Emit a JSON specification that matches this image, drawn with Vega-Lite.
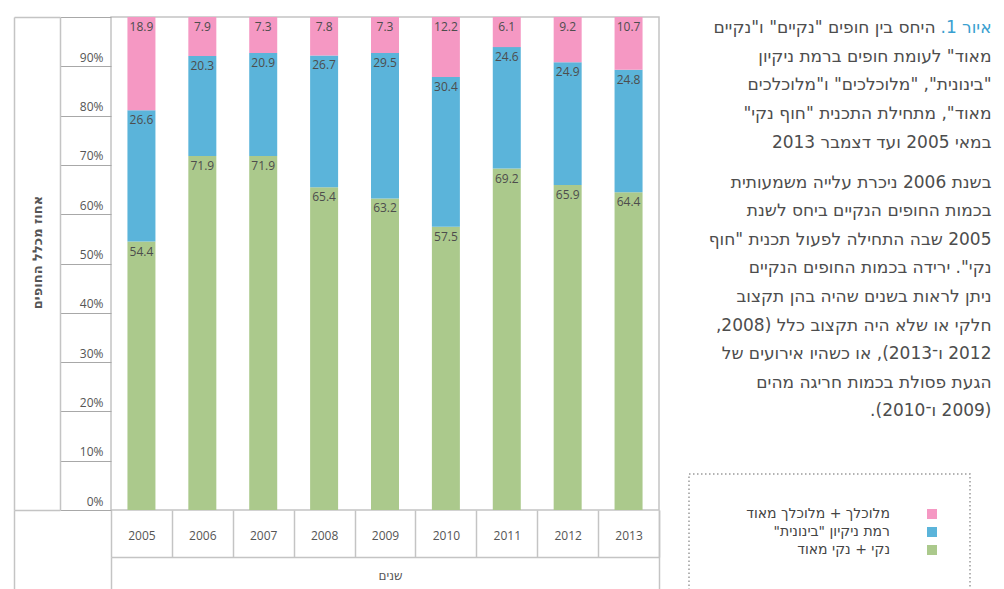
{
  "$schema": "https://vega.github.io/schema/vega-lite/v6.json",
  "width": 548,
  "height": 493,
  "autosize": {"type": "none"},
  "padding": {"left": 111, "top": 17, "right": 345, "bottom": 79},
  "background": "white",
  "config": {
    "font": "Open Sans",
    "view": {"stroke": "#c4c4c4", "strokeWidth": 1.5},
    "axis": {"grid": false},
    "legend": {"strokeColor": "#9a9a9a", "strokeDash": [1.5, 2.5], "strokeWidth": 1.5, "padding": 33}
  },
  "data": {
    "values": [
      {"year": "2005", "category": "נקי + נקי מאוד", "level": 1, "value": 54.4},
      {"year": "2005", "category": "רמת ניקיון \"בינונית\"", "level": 2, "value": 26.6},
      {"year": "2005", "category": "מלוכלך + מלוכלך מאוד", "level": 3, "value": 18.9},
      {"year": "2006", "category": "נקי + נקי מאוד", "level": 1, "value": 71.9},
      {"year": "2006", "category": "רמת ניקיון \"בינונית\"", "level": 2, "value": 20.3},
      {"year": "2006", "category": "מלוכלך + מלוכלך מאוד", "level": 3, "value": 7.9},
      {"year": "2007", "category": "נקי + נקי מאוד", "level": 1, "value": 71.9},
      {"year": "2007", "category": "רמת ניקיון \"בינונית\"", "level": 2, "value": 20.9},
      {"year": "2007", "category": "מלוכלך + מלוכלך מאוד", "level": 3, "value": 7.3},
      {"year": "2008", "category": "נקי + נקי מאוד", "level": 1, "value": 65.4},
      {"year": "2008", "category": "רמת ניקיון \"בינונית\"", "level": 2, "value": 26.7},
      {"year": "2008", "category": "מלוכלך + מלוכלך מאוד", "level": 3, "value": 7.8},
      {"year": "2009", "category": "נקי + נקי מאוד", "level": 1, "value": 63.2},
      {"year": "2009", "category": "רמת ניקיון \"בינונית\"", "level": 2, "value": 29.5},
      {"year": "2009", "category": "מלוכלך + מלוכלך מאוד", "level": 3, "value": 7.3},
      {"year": "2010", "category": "נקי + נקי מאוד", "level": 1, "value": 57.5},
      {"year": "2010", "category": "רמת ניקיון \"בינונית\"", "level": 2, "value": 30.4},
      {"year": "2010", "category": "מלוכלך + מלוכלך מאוד", "level": 3, "value": 12.2},
      {"year": "2011", "category": "נקי + נקי מאוד", "level": 1, "value": 69.2},
      {"year": "2011", "category": "רמת ניקיון \"בינונית\"", "level": 2, "value": 24.6},
      {"year": "2011", "category": "מלוכלך + מלוכלך מאוד", "level": 3, "value": 6.1},
      {"year": "2012", "category": "נקי + נקי מאוד", "level": 1, "value": 65.9},
      {"year": "2012", "category": "רמת ניקיון \"בינונית\"", "level": 2, "value": 24.9},
      {"year": "2012", "category": "מלוכלך + מלוכלך מאוד", "level": 3, "value": 9.2},
      {"year": "2013", "category": "נקי + נקי מאוד", "level": 1, "value": 64.4},
      {"year": "2013", "category": "רמת ניקיון \"בינונית\"", "level": 2, "value": 24.8},
      {"year": "2013", "category": "מלוכלך + מלוכלך מאוד", "level": 3, "value": 10.7}
    ]
  },
  "resolve": {"axis": {"x": "independent", "y": "independent"}},
  "layer": [
    {
      "mark": {"type": "bar", "size": 28},
      "encoding": {
        "x": {
          "field": "year", "type": "ordinal",
          "scale": {"paddingInner": 0, "paddingOuter": 0},
          "axis": {
            "orient": "bottom", "domain": false, "ticks": true, "tickBand": "extent",
            "tickSize": 47, "tickColor": "#c4c4c4", "tickWidth": 1.5,
            "labelAngle": 0, "labelBaseline": "middle", "labelPadding": -22,
            "labelFontSize": 12, "labelColor": "#555555", "labelFont": "Open Sans",
            "title": "שנים", "titleX": 279, "titleY": 65, "titleBaseline": "middle", "titleAlign": "center",
            "titleFontSize": 12, "titleFontWeight": "normal", "titleColor": "#555555", "titleFont": "DejaVu Sans"
          }
        },
        "y": {
          "field": "value", "type": "quantitative", "stack": "normalize",
          "scale": {"domain": [0, 1]},
          "axis": {
            "orient": "left", "domain": false, "ticks": true,
            "values": [0, 0.1, 0.2, 0.3, 0.4, 0.5, 0.6, 0.7, 0.8, 0.9, 1],
            "format": ".0%", "labelExpr": "datum.value > 0.95 ? '' : datum.label",
            "tickSize": 51, "tickColor": "#a8a8a8", "tickWidth": 1,
            "labelPadding": -43, "labelAlign": "right", "labelBaseline": "alphabetic", "labelOffset": -5,
            "labelFontSize": 12, "labelColor": "#555555", "labelFont": "Open Sans",
            "title": "אחוז מכלל החופים", "titleX": -74, "titleY": 235, "titleAngle": 270,
            "titleAlign": "center", "titleBaseline": "middle",
            "titleFontSize": 13, "titleFontWeight": "bold", "titleColor": "#555555", "titleFont": "DejaVu Sans"
          }
        },
        "color": {
          "field": "category", "type": "nominal",
          "scale": {
            "domain": ["מלוכלך + מלוכלך מאוד", "רמת ניקיון \"בינונית\"", "נקי + נקי מאוד"],
            "range": ["#f598c3", "#5bb4da", "#abc98c"]
          },
          "legend": {
            "orient": "none", "legendX": 578, "legendY": 457,
            "title": ["\u00a0", "\u00a0", "\u00a0", "\u00a0", "\u00a0", "\u00a0"],
            "titleOrient": "left", "titlePadding": 203, "titleLineHeight": 25, "titleFontSize": 13, "titleFont": "DejaVu Sans",
            "symbolType": "square", "symbolSize": 100, "symbolStrokeWidth": 0,
            "labelAlign": "right", "labelOffset": -49, "labelFontSize": 14,
            "labelColor": "#444444", "labelFont": "DejaVu Sans", "labelLimit": 300, "rowPadding": 4,
            "labelExpr": "'\u200f' + datum.label + '\u200f'"
          }
        },
        "order": {"field": "level", "type": "quantitative", "sort": "ascending"}
      }
    },
    {
      "mark": {"type": "text", "baseline": "top", "dy": 5, "fontSize": 12, "color": "#4d4d4d", "font": "Open Sans"},
      "encoding": {
        "x": {"field": "year", "type": "ordinal", "axis": null},
        "y": {"field": "value", "type": "quantitative", "stack": "normalize", "axis": null},
        "detail": {"field": "category", "type": "nominal"},
        "order": {"field": "level", "type": "quantitative", "sort": "ascending"},
        "text": {"field": "value", "type": "quantitative", "format": ".1f"}
      }
    },
    {
      "mark": {"type": "bar", "opacity": 0},
      "encoding": {
        "x": {
          "field": "year", "type": "ordinal",
          "axis": {
            "orient": "bottom", "offset": 47, "values": ["2005"], "bandPosition": 0,
            "domain": true, "domainColor": "#c4c4c4", "domainWidth": 1.5,
            "ticks": true, "tickSize": 32, "tickColor": "#c4c4c4", "tickWidth": 1.5,
            "labels": false,
            "title": [
              "\u200fמאוד\" לעומת חופים ברמת ניקיון\u200f",
              "\u200f\"בינונית\", \"מלוכלכים\" ו\"מלוכלכים\u200f",
              "\u200fמאוד\", מתחילת התכנית \"חוף נקי\"\u200f",
              "\u200fבמאי 2005 ועד דצמבר 2013\u200f"
            ],
            "titleX": 880, "titleY": -496, "titleAngle": 0, "titleAlign": "right", "titleBaseline": "alphabetic",
            "titleFontSize": 17, "titleFontWeight": "normal", "titleColor": "#4d4d4d", "titleLineHeight": 28.8,
            "titleLimit": 2000, "titleFont": "DejaVu Sans"
          }
        },
        "y": {
          "field": "value", "type": "quantitative", "stack": "normalize",
          "axis": {
            "orient": "left", "offset": 51, "values": [0, 1],
            "domain": true, "domainColor": "#c4c4c4", "domainWidth": 1.5,
            "ticks": true, "tickSize": 46, "tickColor": "#c4c4c4", "tickWidth": 1.5,
            "labels": false,
            "title": [
              "\u200fבשנת 2006 ניכרת עלייה משמעותית\u200f",
              "\u200fבכמות החופים הנקיים ביחס לשנת\u200f",
              "\u200f2005 שבה התחילה לפעול תכנית \"חוף\u200f",
              "\u200fנקי\". ירידה בכמות החופים הנקיים\u200f",
              "\u200fניתן לראות בשנים שהיה בהן תקצוב\u200f",
              "\u200fחלקי או שלא היה תקצוב כלל (2008,\u200f",
              "\u200f2012 ו־2013), או כשהיו אירועים של\u200f",
              "\u200fהגעת פסולת בכמות חריגה מהים\u200f",
              "\u200f(2009 ו־2010).\u200f"
            ],
            "titleX": 931, "titleY": 170, "titleAngle": 0, "titleAlign": "right", "titleBaseline": "alphabetic",
            "titleFontSize": 17, "titleFontWeight": "normal", "titleColor": "#4d4d4d", "titleLineHeight": 28.6,
            "titleLimit": 2000, "titleFont": "DejaVu Sans"
          }
        }
      }
    },
    {
      "mark": {"type": "bar", "opacity": 0},
      "encoding": {
        "x": {
          "field": "year", "type": "ordinal",
          "axis": {
            "orient": "bottom", "offset": 0, "values": ["2013"], "bandPosition": 1,
            "domain": false, "ticks": true, "tickSize": 79, "tickColor": "#c4c4c4", "tickWidth": 1.5,
            "labels": false, "title": null
          }
        },
        "y": {
          "field": "value", "type": "quantitative", "stack": "normalize",
          "axis": {
            "orient": "left", "offset": 97, "domain": true, "domainColor": "#c4c4c4", "domainWidth": 1.5,
            "ticks": false, "labels": false,
            "title": "\u200fאיור 1.\u200f",
            "titleX": 977, "titleY": 15, "titleAngle": 0, "titleAlign": "right", "titleBaseline": "alphabetic",
            "titleFontSize": 17, "titleFontWeight": "normal", "titleColor": "#3a9fd0",
            "titleLimit": 2000, "titleFont": "DejaVu Sans"
          }
        }
      }
    },
    {
      "mark": {"type": "bar", "opacity": 0},
      "encoding": {
        "x": {
          "field": "year", "type": "ordinal",
          "axis": {
            "orient": "bottom", "offset": 0, "values": ["2005"], "bandPosition": 0, "tickOffset": -97,
            "domain": false, "ticks": true, "tickSize": 79, "tickColor": "#c4c4c4", "tickWidth": 1.5,
            "labels": false,
            "title": "\u200fהיחס בין חופים \"נקיים\" ו\"נקיים\u200f",
            "titleX": 824, "titleY": -478, "titleAngle": 0, "titleAlign": "right", "titleBaseline": "alphabetic",
            "titleFontSize": 17, "titleFontWeight": "normal", "titleColor": "#4d4d4d",
            "titleLimit": 2000, "titleFont": "DejaVu Sans"
          }
        },
        "y": {"field": "value", "type": "quantitative", "stack": "normalize", "axis": null}
      }
    }
  ]
}
